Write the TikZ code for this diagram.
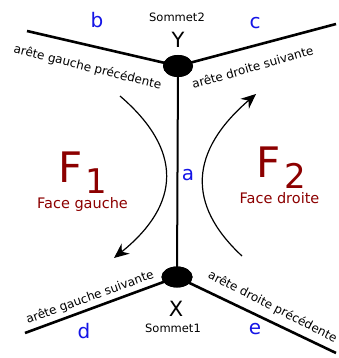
\documentclass[tikz,border=0pt]{standalone}
\usepackage{fontspec}
\setmainfont{DejaVu Sans}
\usetikzlibrary{arrows.meta,shapes.geometric}
\definecolor{facered}{RGB}{140,0,0}
\definecolor{lblue}{RGB}{20,20,230}
\tikzset{
  vertex/.style={ellipse, fill=black, minimum width=30pt, minimum height=22pt, inner sep=0pt},
  edge/.style={line width=2.6pt},
  midedge/.style={line width=2pt},
  turn/.style={line width=1.2pt, -{Stealth[length=15pt, width=13pt, inset=5pt]}},
  arete/.style={font=\fontsize{12}{12}\selectfont, inner sep=0pt},
  letter/.style={text=lblue, font=\fontsize{20}{20}\selectfont, inner sep=0pt},
  sommet/.style={font=\fontsize{11.5}{12}\selectfont, inner sep=0pt},
  vname/.style={font=\fontsize{21}{21}\selectfont, inner sep=0pt},
  fname/.style={text=facered, font=\fontsize{42}{42}\selectfont, inner sep=0pt},
  fsub/.style={text=facered, font=\fontsize{34}{34}\selectfont, inner sep=0pt},
  ftext/.style={text=facered, font=\fontsize{14.5}{15}\selectfont, inner sep=0pt}
}
\begin{document}
\begin{tikzpicture}[x=1pt, y=-1pt]
\useasboundingbox (0,0) rectangle (339,358);
% vertices
\node[vertex] (Y) at (178,66) {};
\node[vertex, minimum width=31pt, minimum height=21pt] (X) at (177,277) {};
% edge ends
\coordinate (bEnd) at (27,31);
\coordinate (cEnd) at (336,24);
\coordinate (dEnd) at (25,333);
\coordinate (eEnd) at (336,353);
% edges
\draw[midedge] (Y.center) -- (X.center);
\draw[edge] (bEnd) -- (Y.center);
\draw[edge] (Y.center) -- (cEnd);
\draw[edge] (dEnd) -- (X.center);
\draw[edge] (X.center) -- (eEnd);
\node[vertex] at (Y) {};
\node[vertex, minimum width=31pt, minimum height=21pt] at (X) {};
% edge labels
\node[arete, rotate=-14] (t1) at (87.5,67.5) {arête gauche précédente};
\node[arete, rotate=16] (t2) at (252.5,67) {arête droite suivante};
\node[arete, rotate=20] (t3) at (90,297.5) {arête gauche suivante};
\node[arete, rotate=-27] (t4) at (272.5,307) {arête droite précédente};
% labels
\node[letter] (lb) at (97,20) {b};
\node[letter] (lc) at (255,23) {c};
\node[letter] (ld) at (84,331) {d};
\node[letter] (le) at (255,329) {e};
\node[letter] (la) at (188,175) {a};
\node[sommet, anchor=base] (s2) at (177,22) {Sommet2};
\node[vname] (vy) at (178,39.5) {Y};
\node[vname] (vx) at (176,308.5) {X};
\node[sommet, anchor=base] (s1) at (173,332) {Sommet1};
% faces
\node[fname, anchor=base west] (F1) at (58,182) {F};
\node[fsub, anchor=base west] (F1s) at (85,193) {1};
\node[ftext, anchor=base] (FG) at (82.5,208) {Face gauche};
\node[fname, anchor=base west] (F2) at (256,177) {F};
\node[fsub, anchor=base west] (F2s) at (284,188) {2};
\node[ftext, anchor=base] (FD) at (279.5,203) {Face droite};
% turning arrows
\coordinate (l1) at (120,96);
\coordinate (l2) at (114,258);
\coordinate (r1) at (242,256);
\coordinate (r2) at (256,94);
\draw[turn] (l1) .. controls (183,150) and (181,204) .. (l2);
\draw[turn] (r1) .. controls (186,204) and (190,151) .. (r2);
\end{tikzpicture}
\end{document}
